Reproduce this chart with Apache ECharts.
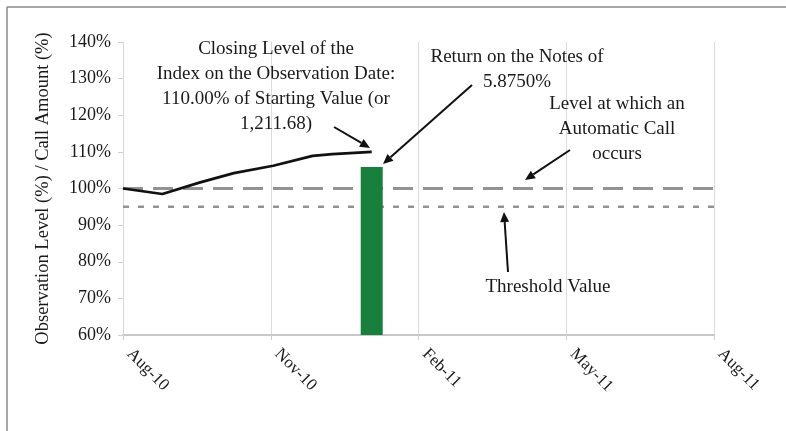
<!DOCTYPE html>
<html><head><meta charset="utf-8">
<script src="https://cdn.jsdelivr.net/npm/echarts@6/dist/echarts.min.js"></script>
<style>html,body{margin:0;padding:0;background:#fff}#c{width:786px;height:431px}</style>
</head><body><div id="c"></div>
<script>
// Data (x in months since Aug-10)
const xTickLabels = ['Aug-10','Nov-10','Feb-11','May-11','Aug-11'];
const indexMonths = [0, 0.8, 1.55, 2.25, 3.05, 3.85, 4.25, 5.05];
const indexLevels = [100, 98.5, 101.6, 104.2, 106.2, 108.9, 109.4, 110];
const barMonths = [5.05];
const barValues = [105.875];
const callLevel = [100, 100];
const thresholdLevel = [95, 95];
const levelMonths = [0, 12];

const FONT = '"Liberation Serif", "DejaVu Serif", serif';
const chart = echarts.init(document.getElementById('c'));

function arrow(x1, y1, x2, y2) {
  const a = Math.atan2(y2 - y1, x2 - x1), L = 10, W = 4.5;
  const bx = x2 - L * Math.cos(a), by = y2 - L * Math.sin(a);
  const px = -Math.sin(a) * W, py = Math.cos(a) * W;
  return [
    {type: 'line', shape: {x1, y1, x2: bx, y2: by}, style: {stroke: '#111', lineWidth: 2}, z: 100},
    {type: 'polygon', shape: {points: [[x2, y2], [bx + px, by + py], [bx - px, by - py]]}, style: {fill: '#111'}, z: 100}
  ];
}
function label(x, y, text) {
  return {type: 'text', x, y, style: {text, font: '19px ' + FONT, fill: '#1a1a1a', align: 'center', verticalAlign: 'top', lineHeight: 25}, z: 100};
}

chart.setOption({
  animation: false,
  backgroundColor: '#fff',
  grid: {left: 123, right: 72, top: 42, bottom: 96},
  xAxis: {
    type: 'value', min: 0, max: 12, interval: 3,
    axisLine: {show: true, lineStyle: {color: '#c8c8c8', width: 2}},
    axisTick: {show: true, length: 5, lineStyle: {color: '#d0d0d0'}},
    splitLine: {show: true, lineStyle: {color: '#dcdcdc', width: 1}},
    axisLabel: {rotate: -45, margin: 10, padding: [0, 0, 0, 9], color: '#1a1a1a', fontFamily: FONT, fontSize: 17,
      formatter: v => xTickLabels[Math.round(v / 3)]}
  },
  yAxis: {
    type: 'value', min: 60, max: 140, interval: 10,
    name: 'Observation Level (%) / Call Amount (%)', nameLocation: 'middle', nameGap: 70, nameRotate: 90,
    nameTextStyle: {color: '#1a1a1a', fontFamily: FONT, fontSize: 18.5},
    axisLine: {show: true, lineStyle: {color: '#d8d8d8', width: 1}},
    axisTick: {show: true, length: 5, lineStyle: {color: '#d0d0d0'}},
    splitLine: {show: false},
    axisLabel: {margin: 12, color: '#1a1a1a', fontFamily: FONT, fontSize: 18, formatter: '{value}%'}
  },
  series: [
    {type: 'line', data: levelMonths.map((m, i) => [m, callLevel[i]]), symbol: 'none',
      lineStyle: {color: '#939393', width: 3, type: [20, 10]}, z: 2},
    {type: 'line', data: levelMonths.map((m, i) => [m, thresholdLevel[i]]), symbol: 'none',
      lineStyle: {color: '#939393', width: 2.5, type: [6, 9]}, z: 2},
    {type: 'bar', data: barMonths.map((m, i) => [m, barValues[i]]), barWidth: 22,
      itemStyle: {color: '#18803c'}, z: 3},
    {type: 'line', data: indexMonths.map((m, i) => [m, indexLevels[i]]), symbol: 'none',
      lineStyle: {color: '#111', width: 2.7}, z: 4}
  ],
  graphic: [
    {type: 'line', shape: {x1: 7, y1: 7, x2: 786, y2: 7}, style: {stroke: '#8a8a8a', lineWidth: 1.5}},
    {type: 'line', shape: {x1: 7, y1: 7, x2: 7, y2: 431}, style: {stroke: '#8a8a8a', lineWidth: 1.5}},
    label(276, 37, 'Closing Level of the\nIndex on the Observation Date:\n110.00% of Starting Value (or\n1,211.68)'),
    label(517, 45, 'Return on the Notes of\n5.8750%'),
    label(617, 92, 'Level at which an\nAutomatic Call\noccurs'),
    label(548, 275, 'Threshold Value'),
    ...arrow(334, 127, 370, 148),
    ...arrow(472, 85, 383, 164),
    ...arrow(570, 150, 525, 180),
    ...arrow(508, 272, 504, 212)
  ]
});
</script></body></html>
